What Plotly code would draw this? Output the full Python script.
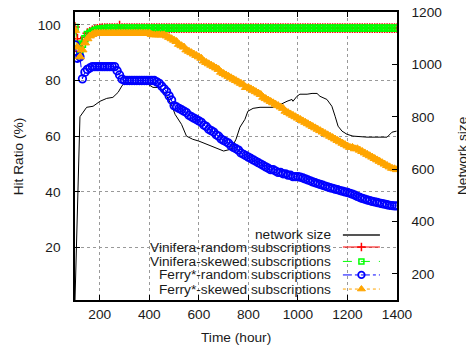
import plotly.graph_objects as go

# Sampling hours for the hit-ratio series (one sample every 10 hours)
hours = list(range(100, 1410, 10))

# Vinifera-random subscriptions, hit ratio (%)
vinifera_random = [
    99.2, 95.0, 90.5, 93.5, 95.5, 97.0, 97.5, 98.0, 98.3, 98.5,   # 100-190
    98.7, 98.8, 98.8, 98.8, 98.8, 98.8, 98.8, 98.8, 99.7, 98.8,   # 200-290
    98.8, 98.8, 98.8, 98.8, 98.8, 98.8, 98.8, 98.8, 98.8, 98.8,   # 300-390
    98.8, 98.8, 98.8, 98.8, 98.8, 98.8, 98.8, 98.8, 98.8, 98.8,   # 400-490
    98.8, 98.8, 98.8, 98.8, 98.8, 98.8, 98.8, 98.8, 98.8, 98.8,   # 500-590
    98.8, 98.8, 98.8, 98.8, 98.8, 98.8, 98.8, 98.8, 98.8, 98.8,   # 600-690
    98.8, 98.8, 98.8, 98.8, 98.8, 98.8, 98.8, 98.8, 98.8, 98.8,   # 700-790
    98.8, 98.8, 98.8, 98.8, 98.8, 98.8, 98.8, 98.8, 98.8, 98.8,   # 800-890
    98.8, 98.8, 98.8, 98.8, 98.8, 98.8, 98.8, 98.8, 98.8, 98.8,   # 900-990
    98.8, 98.8, 98.8, 98.8, 98.8, 98.8, 98.8, 98.8, 98.8, 98.8,   # 1000-1090
    98.8, 98.8, 98.8, 98.8, 98.8, 98.8, 98.8, 98.8, 98.8, 98.8,   # 1100-1190
    98.8, 98.8, 98.8, 98.8, 98.8, 98.8, 98.8, 98.8, 98.8, 98.8,   # 1200-1290
    98.8, 98.8, 98.8, 98.8, 98.8, 98.8, 98.8, 98.8, 98.8, 98.8,   # 1300-1390
    98.8,                                                         # 1400
]

# Vinifera-skewed subscriptions, hit ratio (%)
vinifera_skewed = [
    99.0, 93.0, 89.0, 93.0, 95.0, 96.5, 97.0, 97.5, 98.0, 98.3,   # 100-190
    98.5, 98.6, 98.7, 98.8, 98.8, 98.8, 98.8, 98.8, 98.8, 98.8,   # 200-290
    98.8, 98.8, 98.8, 98.8, 98.8, 98.8, 98.8, 98.8, 98.8, 98.8,   # 300-390
    98.8, 98.8, 98.8, 98.8, 98.8, 98.8, 98.8, 98.8, 98.8, 98.8,   # 400-490
    98.8, 98.8, 98.8, 98.8, 98.8, 98.8, 98.8, 98.8, 98.8, 98.8,   # 500-590
    98.8, 98.8, 98.8, 98.8, 98.8, 98.8, 98.8, 98.8, 98.8, 98.8,   # 600-690
    98.8, 98.8, 98.8, 98.8, 98.8, 98.8, 98.8, 98.8, 98.8, 98.8,   # 700-790
    98.8, 98.8, 98.8, 98.8, 98.8, 98.8, 98.8, 98.8, 98.8, 98.8,   # 800-890
    98.8, 98.8, 98.8, 98.8, 98.8, 98.8, 98.8, 98.8, 98.8, 98.8,   # 900-990
    98.8, 98.8, 98.8, 98.8, 98.8, 98.8, 98.8, 98.8, 98.8, 98.8,   # 1000-1090
    98.8, 98.8, 98.8, 98.8, 98.8, 98.8, 98.8, 98.8, 98.8, 98.8,   # 1100-1190
    98.8, 98.8, 98.8, 98.8, 98.8, 98.8, 98.8, 98.8, 98.8, 98.8,   # 1200-1290
    98.8, 98.8, 98.8, 98.8, 98.8, 98.8, 98.8, 98.8, 98.8, 98.8,   # 1300-1390
    98.8,                                                         # 1400
]

# Ferry*-random subscriptions, hit ratio (%)
ferry_random = [
    92.8, 88.0, 88.5, 80.6, 83.0, 84.0, 84.5, 85.0, 85.0, 85.0,   # 100-190
    85.0, 85.0, 85.0, 85.0, 85.0, 85.0, 85.0, 83.5, 82.0, 80.5,   # 200-290
    80.0, 80.0, 80.0, 80.0, 80.0, 80.0, 80.0, 80.0, 80.0, 80.0,   # 300-390
    80.0, 80.0, 80.0, 79.5, 79.0, 78.0, 77.0, 76.0, 74.5, 73.0,   # 400-490
    71.0, 70.5, 70.0, 69.5, 69.0, 68.5, 67.5, 67.0, 66.5, 66.0,   # 500-590
    65.5, 65.0, 64.0, 63.5, 62.5, 62.0, 61.5, 60.5, 60.0, 59.0,   # 600-690
    58.5, 58.0, 57.5, 56.5, 56.0, 55.5, 55.0, 54.0, 53.5, 53.0,   # 700-790
    52.5, 52.0, 51.5, 51.0, 50.5, 50.0, 49.5, 49.0, 48.5, 48.0,   # 800-890
    48.0, 47.5, 47.0, 47.0, 46.5, 46.5, 46.0, 46.0, 45.5, 45.5,   # 900-990
    45.5, 45.3, 45.0, 44.7, 44.3, 44.0, 43.6, 43.3, 43.0, 42.7,   # 1000-1090
    42.4, 42.1, 41.8, 41.5, 41.3, 41.0, 40.8, 40.5, 40.3, 40.0,   # 1100-1190
    39.8, 39.5, 39.2, 38.8, 38.4, 38.0, 37.7, 37.4, 37.1, 36.9,   # 1200-1290
    36.6, 36.4, 36.2, 36.0, 35.8, 35.6, 35.4, 35.2, 35.1, 35.0,   # 1300-1390
    35.0,                                                         # 1400
]

# Ferry*-skewed subscriptions, hit ratio (%)
ferry_skewed = [
    98.0, 92.0, 88.5, 91.0, 93.5, 95.0, 96.0, 96.5, 97.0, 97.0,   # 100-190
    97.0, 97.0, 97.0, 97.0, 97.0, 97.0, 97.0, 97.0, 97.0, 97.0,   # 200-290
    97.0, 97.0, 97.0, 97.0, 97.0, 97.0, 97.0, 97.0, 97.0, 97.0,   # 300-390
    97.0, 96.5, 96.4, 96.4, 96.4, 96.4, 96.4, 96.0, 95.5, 95.0,   # 400-490
    94.5, 94.0, 93.0, 92.5, 92.0, 91.0, 90.5, 90.0, 89.5, 89.0,   # 500-590
    88.5, 88.0, 87.0, 86.5, 86.0, 85.5, 85.0, 84.5, 84.0, 83.0,   # 600-690
    82.5, 82.0, 81.5, 81.0, 80.5, 80.0, 79.5, 79.0, 78.5, 77.5,   # 700-790
    77.5, 77.0, 76.5, 76.0, 75.5, 75.0, 74.0, 73.5, 73.0, 72.5,   # 800-890
    72.0, 71.5, 71.0, 70.5, 70.0, 69.0, 68.5, 68.0, 67.5, 67.0,   # 900-990
    66.5, 66.0, 65.5, 65.0, 64.5, 64.0, 63.5, 63.0, 62.5, 62.0,   # 1000-1090
    61.5, 61.0, 60.5, 60.0, 59.5, 59.0, 58.5, 58.0, 57.5, 57.0,   # 1100-1190
    56.5, 56.0, 56.0, 55.5, 55.5, 55.0, 54.5, 54.0, 53.5, 53.0,   # 1200-1290
    52.5, 52.0, 51.5, 51.0, 50.5, 50.0, 49.5, 49.0, 48.5, 48.3,   # 1300-1390
    48.0,                                                         # 1400
]

# Network size (number of nodes) over time
net_hours = [100, 118, 120, 147, 173, 201, 228, 253, 274, 289, 302, 314, 322,
             350, 375, 395, 415, 443, 471, 492, 504, 530, 550, 575, 600, 650,
             700, 730, 750, 766, 786, 798, 819, 847, 875, 899, 915, 936, 956,
             976, 980, 996, 1008, 1037, 1057, 1077, 1089, 1117, 1137, 1150,
             1162, 1178, 1198, 1222, 1279, 1331, 1360, 1380, 1398]
net_size = [100, 790, 800, 836, 840, 859, 870, 874, 893, 917, 932, 931, 931,
            925, 924, 924, 912, 912, 878, 840, 809, 771, 726, 714, 707, 688,
            669, 676, 714, 760, 790, 821, 832, 836, 836, 836, 840, 851, 859,
            866, 859, 878, 886, 886, 889, 889, 878, 866, 840, 802, 764, 745,
            733, 726, 722, 722, 722, 741, 745]

x_ticks = [200, 400, 600, 800, 1000, 1200, 1400]
hit_ticks = [20, 40, 60, 80, 100]
size_ticks = [200, 400, 600, 800, 1000, 1200]

FONT = "Liberation Sans, Arial, sans-serif"
FS = 13.7
TEXT = "#1a1a1a"

series = [
    dict(name="Vinifera-random subscriptions", y=vinifera_random, color="#ff0000",
         dash="solid", symbol="cross-thin-open", size=7, lw=1.5),
    dict(name="Vinifera-skewed subscriptions", y=vinifera_skewed, color="#00ff00",
         dash="dash", symbol="square-open", size=6, lw=1.5),
    dict(name="Ferry*-random subscriptions", y=ferry_random, color="#0000ff",
         dash="dashdot", symbol="circle-open", size=7.5, lw=1.8),
    dict(name="Ferry*-skewed subscriptions", y=ferry_skewed, color="#ffa500",
         dash="dot", symbol="triangle-up", size=8, lw=1),
]

fig = go.Figure()

# network size on the right-hand axis, drawn first so it sits underneath
fig.add_trace(go.Scatter(
    x=net_hours, y=net_size, mode="lines", name="network size",
    line=dict(color="black", width=1), xaxis="x", yaxis="y", showlegend=False))

for s in series:
    fig.add_trace(go.Scatter(
        x=hours, y=s["y"], mode="lines+markers", name=s["name"],
        line=dict(color=s["color"], width=1, dash=s["dash"]),
        marker=dict(symbol=s["symbol"], size=s["size"], color=s["color"],
                    line=dict(color=s["color"], width=s["lw"])),
        xaxis="x", yaxis="y2", showlegend=False))

# key: right-aligned labels with line samples to their right
key_rows = [0.226, 0.184, 0.134, 0.087, 0.038]
key_x0, key_x1, key_text_x = 0.832, 0.947, 0.801
key_items = [dict(name="network size", color="#555555", dash="solid", symbol=None,
                  size=0, lw=0)] + series

shapes = [dict(type="rect", xref="paper", yref="paper", x0=0.056, x1=0.995,
               y0=0.005, y1=0.252, fillcolor="white", line=dict(width=0),
               layer="between")]
annotations = []
for row, item in zip(key_rows, key_items):
    annotations.append(dict(xref="paper", yref="paper", x=key_text_x, y=row,
                            text=item["name"], showarrow=False, xanchor="right",
                            yanchor="middle",
                            font=dict(family=FONT, size=FS, color=TEXT)))
    fig.add_trace(go.Scatter(
        x=[key_x0, key_x1], y=[row, row], mode="lines",
        line=dict(color=item["color"], width=2 if item["symbol"] is None else 1,
                  dash=item["dash"]),
        xaxis="x3", yaxis="y3", showlegend=False, hoverinfo="skip"))
    if item["symbol"]:
        fig.add_trace(go.Scatter(
            x=[(key_x0 + key_x1) / 2], y=[row], mode="markers",
            marker=dict(symbol=item["symbol"], size=item["size"] - 1, color=item["color"],
                        line=dict(color=item["color"], width=item["lw"])),
            xaxis="x3", yaxis="y3", showlegend=False, hoverinfo="skip"))

# axis titles
annotations += [
    dict(xref="paper", yref="paper", x=-0.176, y=0.50, text="Hit Ratio (%)",
         showarrow=False, textangle=-90, xanchor="center", yanchor="middle",
         font=dict(family=FONT, size=FS, color=TEXT)),
    dict(xref="paper", yref="paper", x=0.50, y=-0.13, text="Time (hour)",
         showarrow=False, xanchor="center", yanchor="middle",
         font=dict(family=FONT, size=FS, color=TEXT)),
    # right-hand axis title runs past the page edge
    dict(xref="paper", yref="paper", x=1.202, y=0.50, text="Network size",
         showarrow=False, textangle=-90, xanchor="center", yanchor="middle",
         font=dict(family=FONT, size=FS, color=TEXT)),
]

axis_common = dict(showline=True, linecolor="black", linewidth=1.5,
                   ticks="inside", ticklen=5, tickcolor="black",
                   tickfont=dict(family=FONT, size=FS, color=TEXT),
                   zeroline=False, automargin=False)

fig.update_layout(
    template="none",
    width=466, height=349,
    margin=dict(l=75, r=69, t=12, b=49, autoexpand=False),
    paper_bgcolor="white", plot_bgcolor="white",
    font=dict(family=FONT, size=FS, color=TEXT),
    showlegend=False,
    xaxis=dict(range=[100, 1400], tickvals=x_ticks, mirror="ticks",
               showgrid=True, gridcolor="#999999", griddash="dot", gridwidth=1,
               ticklabelstandoff=1, **axis_common),
    yaxis=dict(range=[100, 1200], tickvals=size_ticks, side="right",
               showgrid=False, ticklabelstandoff=10, **axis_common),
    yaxis2=dict(range=[1.2, 104.6], tickvals=hit_ticks, side="left", overlaying="y",
                showgrid=True, gridcolor="#999999", griddash="dot", gridwidth=1,
                ticklabelstandoff=10, **axis_common),
    xaxis3=dict(range=[0, 1], overlaying="x", visible=False),
    yaxis3=dict(range=[0, 1], overlaying="y", visible=False),
    shapes=shapes,
    annotations=annotations,
)

fig.write_html("out.html")
